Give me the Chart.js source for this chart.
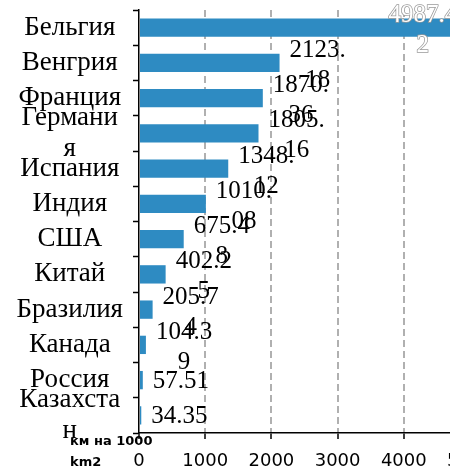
<!DOCTYPE html>
<html>
<head>
<meta charset="utf-8">
<script src="https://cdn.jsdelivr.net/npm/chart.js@4.4.0/dist/chart.umd.min.js"></script>
<style>
  html, body { margin: 0; padding: 0; background: #fff; overflow: hidden; }
  #wrap { width: 450px; height: 473px; overflow: hidden; }
  canvas { display: block; }
</style>
</head>
<body>
<div id="wrap"><canvas id="chart" width="480" height="473"></canvas></div>
<script>
// data; long names are broken the way the picture shows them
const categories = ['Бельгия', 'Венгрия', 'Франция', ['Германи', 'я'], 'Испания', 'Индия',
                    'США', 'Китай', 'Бразилия', 'Канада', 'Россия', ['Казахста', 'н']];
const values = [4987.42, 2123.18, 1870.36, 1805.16, 1348.12, 1010.08,
                675.48, 402.25, 205.74, 104.39, 57.51, 34.35];
const xTicks = [0, 1000, 2000, 3000, 4000, 5000];
const unitNote = ['км на 1000', 'km2'];

const SERIF = '"Liberation Serif", "Times New Roman", serif';
const SANS = '"DejaVu Sans", sans-serif';

const measureCtx = document.createElement('canvas').getContext('2d');

// greedy character wrap, like the original value labels
function wrapText(text, font, maxWidth) {
    measureCtx.font = font;
    const lines = [];
    let line = '';
    for (const ch of text) {
        if (line && measureCtx.measureText(line + ch).width > maxWidth) {
            lines.push(line);
            line = ch;
        } else {
            line += ch;
        }
    }
    if (line) lines.push(line);
    return lines;
}

// value labels next to the bars
const valueLabels = {
    id: 'valueLabels',
    afterDatasetsDraw(chart) {
        const ctx = chart.ctx;
        const area = chart.chartArea;
        const meta = chart.getDatasetMeta(0);
        const font = '25px ' + SERIF;
        const lineH = 30;
        ctx.save();
        ctx.font = font;
        ctx.textAlign = 'center';
        ctx.textBaseline = 'middle';
        meta.data.forEach((bar, i) => {
            const txt = values[i].toFixed(2);
            const inside = bar.x + 80 > area.right;
            const lines = wrapText(txt, font, inside ? 70 : 60);
            const w = Math.max(...lines.map(l => ctx.measureText(l).width));
            const cx = inside ? bar.x - 12 - w / 2 : bar.x + 10 + w / 2;
            const shift = lines.length > 1 ? 2.5 : 1;
            lines.forEach((l, k) => {
                const y = bar.y + (k - (lines.length - 1) / 2) * lineH + shift;
                if (inside) {
                    ctx.lineWidth = 1.5;
                    ctx.strokeStyle = '#9a9a9a';
                    ctx.strokeText(l, cx, y);
                    ctx.fillStyle = '#ffffff';
                    ctx.fillText(l, cx, y);
                } else {
                    ctx.fillStyle = '#000000';
                    ctx.fillText(l, cx, y);
                }
            });
        });
        ctx.restore();
    }
};

// unit note bottom-left
const unitText = {
    id: 'unitText',
    afterDraw(chart) {
        const ctx = chart.ctx;
        ctx.save();
        ctx.font = 'bold 13px ' + SANS;
        ctx.fillStyle = '#000';
        ctx.textAlign = 'left';
        ctx.textBaseline = 'middle';
        ctx.fillText(unitNote[0], 70, 442);
        ctx.fillText(unitNote[1], 70, 463);
        ctx.restore();
    }
};

new Chart(document.getElementById('chart'), {
    type: 'bar',
    data: {
        labels: categories,
        datasets: [{
            data: values,
            backgroundColor: '#2e8bc2',
            borderWidth: 0,
            categoryPercentage: 1,
            barPercentage: 0.52
        }]
    },
    options: {
        indexAxis: 'y',
        responsive: false,
        animation: false,
        devicePixelRatio: 1,
        layout: { padding: { top: 10, right: 10, left: 0, bottom: 0 } },
        plugins: {
            legend: { display: false },
            tooltip: { enabled: false }
        },
        scales: {
            x: {
                min: 0,
                max: 5000,
                afterBuildTicks: s => { s.ticks = xTicks.map(v => ({ value: v })); },
                afterFit: s => {
                    s.height = 40;
                    s.paddingLeft = 0;
                    s.paddingRight = 0;
                },
                ticks: {
                    color: '#000',
                    font: { family: SANS, size: 18 },
                    padding: 12,
                    maxRotation: 0,
                    callback: v => String(v)
                },
                grid: {
                    color: c => (c.tick && c.tick.value === 0) ? 'rgba(0,0,0,0)' : '#b0b0b0',
                    lineWidth: 2,
                    tickColor: '#000',
                    tickLength: 6,
                    tickWidth: 1.5
                },
                border: { color: '#000', width: 1.5, dash: [7, 4] }
            },
            y: {
                afterFit: s => {
                    s.width = 139;
                    s.paddingTop = 0;
                    s.paddingBottom = 0;
                },
                ticks: {
                    color: '#000',
                    font: { family: SERIF, size: 27, lineHeight: 1.13 },
                    crossAlign: 'center',
                    padding: 10,
                    autoSkip: false
                },
                grid: {
                    offset: true,
                    drawOnChartArea: false,
                    color: '#000',
                    tickLength: 6,
                    tickWidth: 1.5
                },
                border: { color: '#000', width: 1.5 }
            }
        }
    },
    plugins: [valueLabels, unitText]
});
</script>
</body>
</html>
